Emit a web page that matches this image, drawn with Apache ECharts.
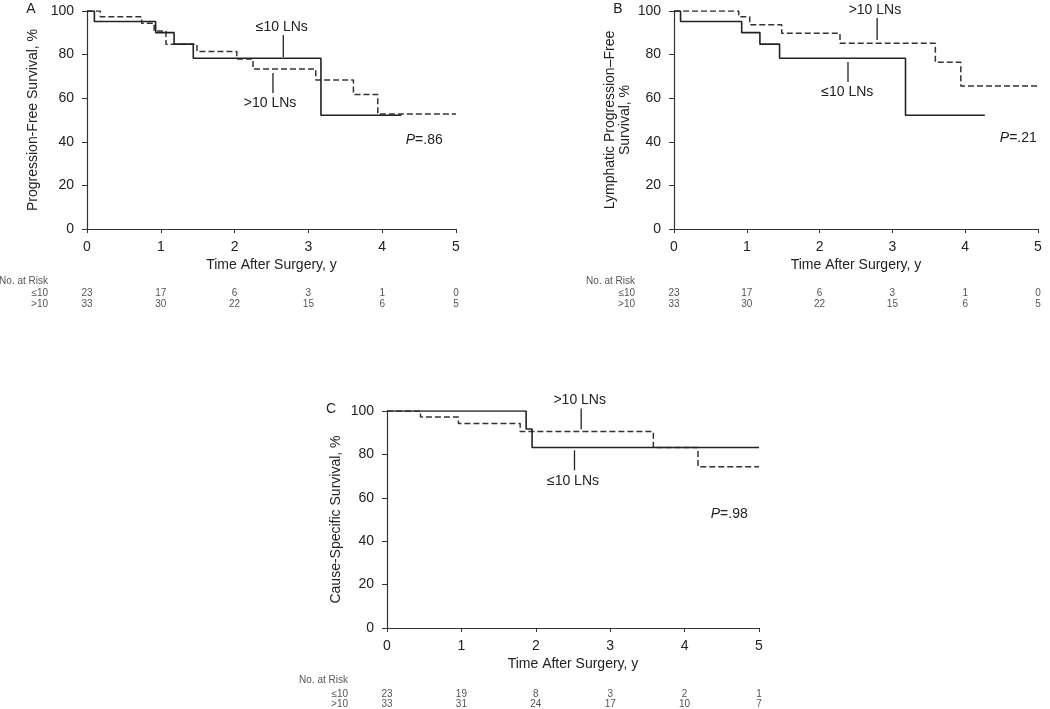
<!DOCTYPE html>
<html>
<head>
<meta charset="utf-8">
<script src="https://cdn.jsdelivr.net/npm/echarts@6/dist/echarts.min.js"></script>
<style>
html,body{margin:0;padding:0;background:#fff;}
#main{width:1050px;height:709px;}
</style>
</head>
<body>
<div id="main"></div>
<script>
// ---------- DATA ----------
// Panel A: Progression-free survival
const aLeTimes = [0, 0.10, 0.93, 1.18, 1.44, 3.17, 4.26];
const aLeSurv  = [100, 95.2, 90.1, 84.8, 78.3, 52.2, 52.2];
const aGtTimes = [0, 0.18, 0.74, 0.91, 1.07, 1.49, 2.03, 2.25, 3.10, 3.61, 3.94, 5.0];
const aGtSurv  = [100, 97.4, 94.4, 90.8, 84.7, 81.4, 78.0, 73.4, 68.4, 61.7, 52.7, 52.7];
// Panel B: Lymphatic progression-free survival
const bLeTimes = [0, 0.09, 0.93, 1.18, 1.45, 3.18, 4.27];
const bLeSurv  = [100, 95.2, 90.1, 84.8, 78.3, 52.2, 52.2];
const bGtTimes = [0, 0.89, 1.04, 1.48, 2.28, 3.59, 3.94, 5.0];
const bGtSurv  = [100, 97.4, 93.7, 89.8, 85.2, 76.5, 65.6, 65.6];
// Panel C: Cause-specific survival
const cLeTimes = [0, 1.87, 1.95, 5.0];
const cLeSurv  = [100, 91.7, 83.2, 83.2];
const cGtTimes = [0, 0.45, 0.96, 1.79, 3.58, 4.18, 5.0];
const cGtSurv  = [100, 97.2, 94.2, 90.5, 83.2, 74.3, 74.3];

// Numbers at risk (at years 0..5)
const riskYears = [0, 1, 2, 3, 4, 5];
const aRiskLe = [23, 17, 6, 3, 1, 0];
const aRiskGt = [33, 30, 22, 15, 6, 5];
const bRiskLe = [23, 17, 6, 3, 1, 0];
const bRiskGt = [33, 30, 22, 15, 6, 5];
const cRiskLe = [23, 19, 8, 3, 2, 1];
const cRiskGt = [33, 31, 24, 17, 10, 7];

const yTitles = ['Progression-Free Survival, %', 'Lymphatic Progression\u2013Free\nSurvival, %', 'Cause-Specific Survival, %'];
const xTitle = 'Time After Surgery, y';
const panelLetters = ['A', 'B', 'C'];
const pValues = ['.86', '.21', '.98'];
const groupLabels = ['\u226410 LNs', '>10 LNs'];
const riskRowLabels = ['\u226410', '>10'];

// ---------- LAYOUT ----------
const FONT = '"Liberation Sans", Arial, sans-serif';
const grids = [
  {left: 87, top: 11, width: 369, height: 218},
  {left: 674, top: 11, width: 364, height: 218},
  {left: 387, top: 411, width: 372, height: 217}
];
const nameGaps = [46, 41, 43];

function pairs(t, s) { return t.map((v, i) => [v, s[i]]); }

const xAxes = grids.map((g, i) => ({
  type: 'value', gridIndex: i, min: 0, max: 5, interval: 1,
  name: xTitle, nameLocation: 'middle', nameGap: 29,
  nameTextStyle: {fontFamily: FONT, fontSize: 14, color: '#222'},
  axisLine: {lineStyle: {color: '#333', width: 1.2}},
  axisTick: {show: true, length: 4, lineStyle: {color: '#333'}},
  axisLabel: {fontFamily: FONT, fontSize: 14, color: '#222', margin: 11},
  splitLine: {show: false}
}));
const yAxes = grids.map((g, i) => ({
  type: 'value', gridIndex: i, min: 0, max: 100, interval: 20,
  name: yTitles[i], nameLocation: 'middle', nameGap: nameGaps[i],
  nameTextStyle: {fontFamily: FONT, fontSize: 14, color: '#222', lineHeight: 15},
  axisLine: {show: true, lineStyle: {color: '#333', width: 1.2}},
  axisTick: {show: true, length: 5, lineStyle: {color: '#333'}},
  axisLabel: {fontFamily: FONT, fontSize: 14, color: '#222', margin: 13},
  splitLine: {show: false}
}));

const curveSets = [
  [pairs(aLeTimes, aLeSurv), pairs(aGtTimes, aGtSurv)],
  [pairs(bLeTimes, bLeSurv), pairs(bGtTimes, bGtSurv)],
  [pairs(cLeTimes, cLeSurv), pairs(cGtTimes, cGtSurv)]
];
const series = [];
curveSets.forEach((cs, i) => {
  series.push({
    type: 'line', xAxisIndex: i, yAxisIndex: i, step: 'end', data: cs[1],
    showSymbol: false, symbol: 'none', animation: false, silent: true,
    lineStyle: {color: '#333', width: 1.5, type: [6, 3]}, z: 2
  });
  series.push({
    type: 'line', xAxisIndex: i, yAxisIndex: i, step: 'end', data: cs[0],
    showSymbol: false, symbol: 'none', animation: false, silent: true,
    lineStyle: {color: '#222', width: 1.6, type: 'solid'}, z: 3
  });
});

const chart = echarts.init(document.getElementById('main'), null, {renderer: 'canvas'});
chart.setOption({
  backgroundColor: '#fff',
  animation: false,
  grid: grids,
  xAxis: xAxes,
  yAxis: yAxes,
  series: series
});

// ---------- ANNOTATIONS ----------
// label anchors in data coords: [text, x, y, leaderX, leaderY1, leaderY2]
const annots = [
  [[groupLabels[0], 2.64, 92.7, 2.66, 89.0, 78.9], [groupLabels[1], 2.48, 57.8, 2.52, 71.6, 62.4]],
  [[groupLabels[1], 2.76, 100.5, 2.79, 96.8, 86.7], [groupLabels[0], 2.38, 62.8, 2.39, 76.6, 67.4]],
  [[groupLabels[1], 2.59, 104.9, 2.61, 101.2, 91.6], [groupLabels[0], 2.50, 67.7, 2.52, 81.9, 72.7]]
];
const pPos = [[4.57, 40.8], [4.73, 41.7], [4.60, 52.5]];
const risks = [[aRiskLe, aRiskGt], [bRiskLe, bRiskGt], [cRiskLe, cRiskGt]];
const riskRowY = [[281.5, 293.5, 304.5], [281.5, 293.5, 304.5], [680, 694, 704.5]];

function px(i, x, y) { return chart.convertToPixel({gridIndex: i}, [x, y]); }

const graphics = [];
grids.forEach((g, i) => {
  // panel letter
  graphics.push({type: 'text', x: g.left - 56, y: g.top - 2,
    style: {text: panelLetters[i], fontFamily: FONT, fontSize: 14, fill: '#222', textAlign: 'center', textVerticalAlign: 'middle'}});
  // group labels with leader lines
  annots[i].forEach(a => {
    const p = px(i, a[1], a[2]);
    graphics.push({type: 'text', x: p[0], y: p[1],
      style: {text: a[0], fontFamily: FONT, fontSize: 14, fill: '#222', textAlign: 'center', textVerticalAlign: 'middle'}});
    const l1 = px(i, a[3], a[4]);
    const l2 = px(i, a[3], a[5]);
    graphics.push({type: 'line', shape: {x1: l1[0], y1: l1[1], x2: l2[0], y2: l2[1]},
      style: {stroke: '#222', lineWidth: 1.3}});
  });
  // P value
  const pp = px(i, pPos[i][0], pPos[i][1]);
  graphics.push({type: 'text', x: pp[0], y: pp[1],
    style: {text: '{i|P}=' + pValues[i], fontFamily: FONT, fontSize: 14, fill: '#222',
      textAlign: 'center', textVerticalAlign: 'middle',
      rich: {i: {fontStyle: 'italic', fontFamily: FONT, fontSize: 14, fill: '#222'}}}});
  // risk table
  const rowY = riskRowY[i];
  const lx = g.left - 39;
  graphics.push({type: 'text', x: lx, y: rowY[0],
    style: {text: 'No. at Risk', fontFamily: FONT, fontSize: 10, fill: '#555', textAlign: 'right', textVerticalAlign: 'middle'}});
  [0, 1].forEach(r => {
    graphics.push({type: 'text', x: lx, y: rowY[r + 1],
      style: {text: riskRowLabels[r], fontFamily: FONT, fontSize: 10, fill: '#555', textAlign: 'right', textVerticalAlign: 'middle'}});
    risks[i][r].forEach((n, k) => {
      const xp = px(i, riskYears[k], 0)[0];
      graphics.push({type: 'text', x: xp, y: rowY[r + 1],
        style: {text: String(n), fontFamily: FONT, fontSize: 10, fill: '#555', textAlign: 'center', textVerticalAlign: 'middle'}});
    });
  });
});
chart.setOption({graphic: graphics});
</script>
</body>
</html>
